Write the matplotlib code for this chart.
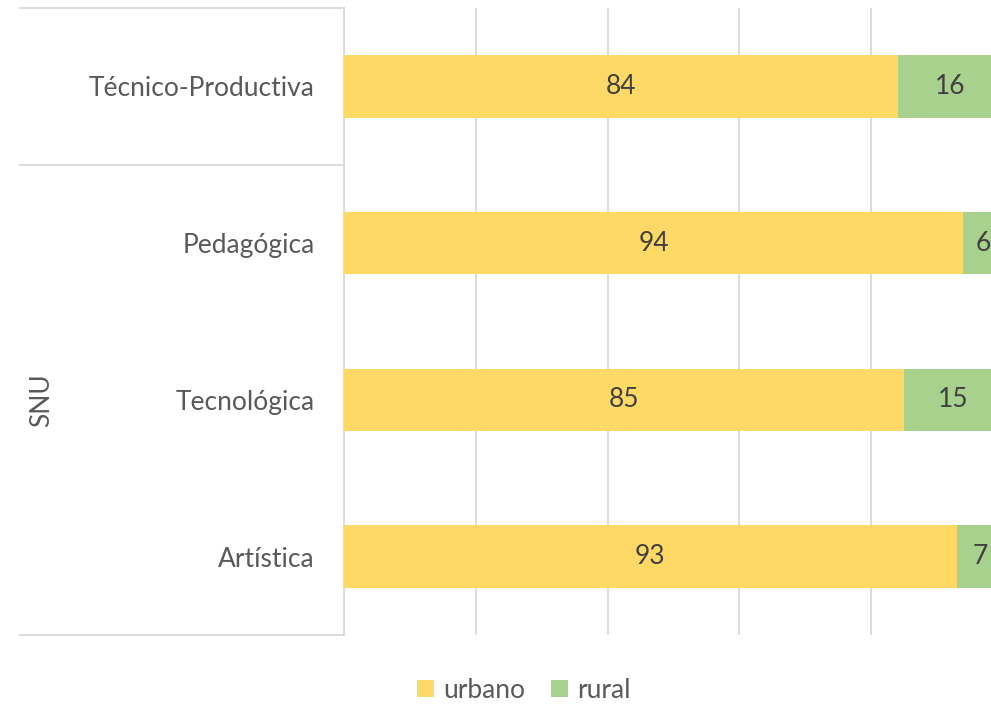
import matplotlib
matplotlib.use("Agg")
import matplotlib.pyplot as plt
from matplotlib.patches import Patch
from matplotlib.lines import Line2D
from matplotlib.transforms import blended_transform_factory

plt.rcParams['font.family'] = ['Lato', 'DejaVu Sans']

categories = ["Artística", "Tecnológica", "Pedagógica", "Técnico-Productiva"]
urbano = [93, 85, 94, 84]
rural = [7, 15, 6, 16]
series_names = ["urbano", "rural"]
group_label = "SNU"

C_URB = "#FFD966"
C_RUR = "#A9D18E"
GRID = "#D9D9D9"
LABEL = "#595959"
DATA = "#404040"

FS = 19

W, H = 991, 704
fig = plt.figure(figsize=(W / 100, H / 100), dpi=100)
ax = fig.add_axes([344 / W, 69 / H, 659 / W, 627 / H])

y = list(range(len(categories)))
ax.barh(y, urbano, height=0.4, color=C_URB, zorder=3)
ax.barh(y, rural, left=urbano, height=0.4, color=C_RUR, zorder=3)

for i in y:
    ax.text(urbano[i] / 2, i, str(urbano[i]), ha="center", va="center",
            fontsize=FS, color=DATA, zorder=4)
    ax.text(urbano[i] + rural[i] / 2, i, str(rural[i]), ha="center", va="center",
            fontsize=FS, color=DATA, zorder=4)

ax.set_xlim(0, 100)
ax.set_ylim(-0.5, len(categories) - 0.5)
ax.set_xticks([0, 20, 40, 60, 80, 100])
ax.set_xticklabels([])
ax.tick_params(axis="x", length=0)
ax.grid(axis="x", color=GRID, linewidth=1.3, zorder=0)
ax.set_yticks(y)
ax.set_yticklabels(categories, fontsize=FS, color=LABEL)
ax.tick_params(axis="y", length=0, pad=21)
for s in ["top", "right", "bottom"]:
    ax.spines[s].set_visible(False)
ax.spines["left"].set_color(GRID)
ax.spines["left"].set_linewidth(1.3)

# multi-level category lines
tr = blended_transform_factory(fig.transFigure, ax.transData)
for yy in [-0.5, 2.5, 3.5]:
    fig.add_artist(Line2D([20 / W, 344 / W], [yy, yy], transform=tr,
                          color=GRID, linewidth=1.3))
ax.text(42 / W, 1.0, group_label, transform=tr, rotation=90, ha="center",
        va="center", fontsize=FS, color=LABEL)

handles = [Patch(facecolor=C_URB, edgecolor="none"), Patch(facecolor=C_RUR, edgecolor="none")]
fig.legend(handles, series_names, loc="center", bbox_to_anchor=(524 / W, 1 - 690 / H),
           ncol=2, frameon=False, fontsize=FS, labelcolor=LABEL,
           handlelength=0.62, handleheight=0.62, handletextpad=0.35, columnspacing=1.0)

fig.savefig("out.png", dpi=100)
